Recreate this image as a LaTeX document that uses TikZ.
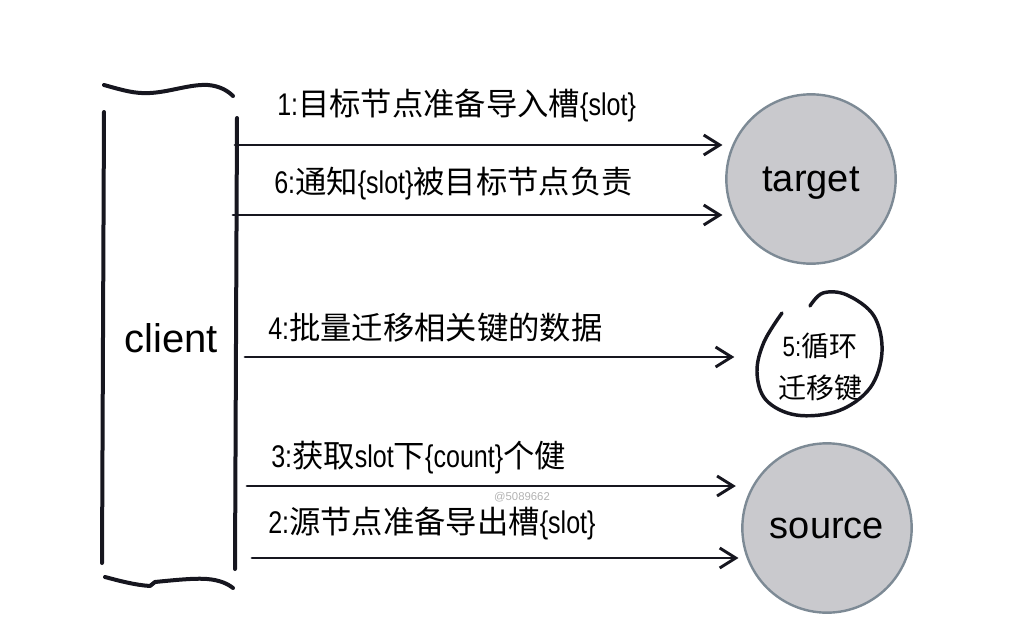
\documentclass[tikz,border=0pt]{standalone}
\usepackage{fontspec}
\setmainfont{Liberation Sans}
\newfontfamily\labfont{Liberation Sans}[FakeStretch=0.8]
\newfontfamily\cjk{Noto Sans CJK SC}
\usetikzlibrary{arrows.meta}
\definecolor{nodefill}{HTML}{C9C9CD}
\definecolor{nodeline}{HTML}{7D8A95}
\definecolor{inkline}{HTML}{16161F}

\begin{document}
\begin{tikzpicture}[x=0.75pt, y=-0.75pt, line cap=round, line join=round,
    >={Straight Barb[length=12pt, width=15pt]},
    msg/.style={->, line width=2.2pt, draw=inkline, shorten >=2pt},
    server/.style={circle, draw=nodeline, fill=nodefill, line width=1.8pt,
        minimum size=127pt, inner sep=0pt, text depth=0pt,
        font=\fontsize{28.5pt}{30pt}\selectfont},
    lbl/.style={anchor=base west, inner sep=0pt,
        font=\labfont\fontsize{23.5pt}{28pt}\selectfont},
    brk/.style={line width=3pt, draw=inkline}]

    \useasboundingbox (0,0) rectangle (1026,639);

    % client bracket
    \draw[brk] (104,85) .. controls (122,90) and (135,94) .. (150,93)
        .. controls (170,92) and (190,84) .. (208,85)
        .. controls (220,86) and (228,91) .. (233,96);
    \draw[brk] (104,112) -- (102,563);
    \draw[brk] (237,118) -- (235,569);
    \draw[brk] (105,577) .. controls (120,581) and (135,585) .. (150,586) -- (155,582)
        .. controls (175,580) and (195,578) .. (207,579)
        .. controls (220,580) and (228,584) .. (233,588);
    \node[font=\fontsize{30pt}{32pt}\selectfont, inner sep=0pt, anchor=base] (client) at (171,352) {client};

    % target / source
    \node[server] (target) at (811,179) {target};
    \node[server] (source) at (827,528) {source};

    % loop
    \node[align=center, inner sep=0pt, font=\labfont\fontsize{21pt}{31.5pt}\selectfont] (loop) at (820,367) {5:{\cjk 循环}\\{\cjk 迁移键}};
    \draw[line width=2.6pt, draw=inkline] plot[smooth, tension=0.6] coordinates {(782,313) (764,342) (757,372) (766,400) (796,415) (838,411) (870,388) (882,352) (874,316) (847,295) (823,293) (810,306)};

    % start points on the bracket
    \coordinate (s1) at (235,145);
    \coordinate (s6) at (233,215);
    \coordinate (s4) at (245,357);
    \coordinate (e4) at (737,357);
    \coordinate (s3) at (247,486);
    \coordinate (s2) at (252,558);

    \draw[msg] (s1) -- (s1 -| target.west);
    \draw[msg] (s6) -- (s6 -| target.west);
    \draw[msg] (s4) -- (e4);
    \draw[msg, shorten >=4pt] (s3) -- (s3 -| source.west);
    \draw[msg] (s2) -- (s2 -| source.west);

    % labels
    \node[lbl] (m1) at (277,115) {1:{\cjk 目标节点准备导入槽}\{slot\}};
    \node[lbl] (m6) at (274,193) {6:{\cjk 通知}\{slot\}{\cjk 被目标节点负责}};
    \node[lbl] (m4) at (268,339) {4:{\cjk 批量迁移相关键的数据}};
    \node[lbl] (m3) at (271,467) {3:{\cjk 获取}slot{\cjk 下}\{count\}{\cjk 个健}};
    \node[lbl] (m2) at (268,533) {2:{\cjk 源节点准备导出槽}\{slot\}};

    \node[text=black!30, font=\fontsize{8.5pt}{9pt}\selectfont] (mark) at (522,497) {@5089662};
\end{tikzpicture}
\end{document}
